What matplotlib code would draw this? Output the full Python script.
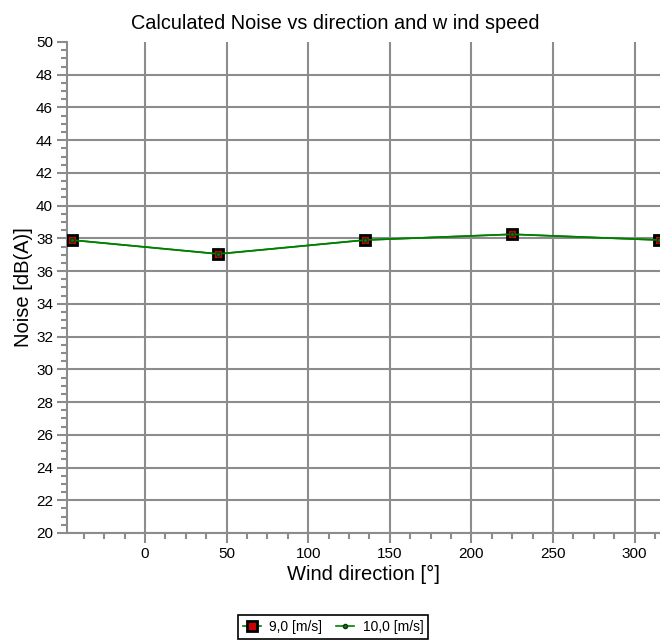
import matplotlib.pyplot as plt
from matplotlib.ticker import MultipleLocator

plt.rcParams['font.family'] = ['Liberation Sans', 'DejaVu Sans']

# wind directions and calculated noise per wind speed
direction = [-45, 45, 135, 225, 315]
noise_9 = [37.9, 37.05, 37.9, 38.25, 37.9]
noise_10 = [37.9, 37.05, 37.9, 38.25, 37.9]

grid_col = '#8c8c8c'

fig = plt.figure(figsize=(6.6, 6.41), dpi=100)
ax = fig.add_axes([0.1015, 0.1685, 0.8985, 0.766])

ax.plot(direction, noise_9, color='green', lw=1.2, marker='s', ms=6.5,
        mfc='#cc0000', mec='black', mew=2, label='9,0 [m/s]', zorder=3)
ax.plot(direction, noise_10, color='green', lw=1.2, marker='o', ms=3,
        mfc='#1a6b1a', mec='#0b3b0b', label='10,0 [m/s]', zorder=4)

ax.set_xlim(-47.8, 315.6)
ax.set_ylim(20, 50)
ax.xaxis.set_major_locator(MultipleLocator(50))
ax.xaxis.set_minor_locator(MultipleLocator(12.5))
ax.yaxis.set_major_locator(MultipleLocator(2))
ax.yaxis.set_minor_locator(MultipleLocator(0.5))

ax.grid(True, which='major', color=grid_col, lw=1.5)
ax.set_axisbelow(True)
fig.canvas.draw()
# no gridline along the top edge
for gl, val in zip(ax.get_ygridlines(), ax.get_yticks()):
    if val >= 50:
        gl.set_visible(False)
for side in ['top', 'right']:
    ax.spines[side].set_visible(False)
for side in ['left', 'bottom']:
    ax.spines[side].set_color(grid_col)
    ax.spines[side].set_linewidth(1.5)

ax.tick_params(which='major', length=7, width=1.5, color=grid_col, labelsize=11, pad=3)
ax.tick_params(which='minor', length=4, width=1.5, color=grid_col)

ax.set_title('Calculated Noise vs direction and w ind speed', fontsize=14.3, pad=9, x=0.452)
ax.set_xlabel('Wind direction [°]', fontsize=14.5, labelpad=3)
ax.set_ylabel('Noise [dB(A)]', fontsize=14.5, labelpad=2)

leg = fig.legend(loc='center', bbox_to_anchor=(0.505, 0.022), ncol=2, fontsize=10,
                 fancybox=False, framealpha=1, edgecolor='black',
                 handlelength=1.3, handletextpad=0.6, columnspacing=1.0,
                 borderpad=0.35)
leg.get_frame().set_linewidth(1.2)

fig.savefig('out.png', dpi=100)
